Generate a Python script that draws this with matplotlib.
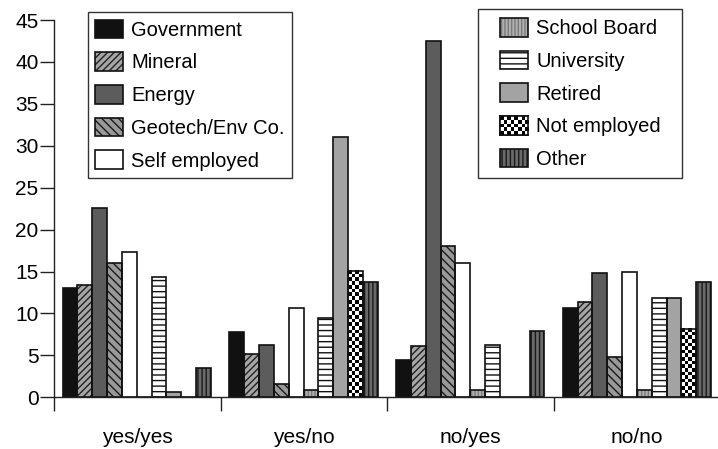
import numpy as np
import matplotlib
matplotlib.use('Agg')
import matplotlib.pyplot as plt
from matplotlib.legend_handler import HandlerTuple
from matplotlib.patches import Rectangle

plt.rcParams['font.family'] = ['Liberation Sans', 'DejaVu Sans']
plt.rcParams['hatch.linewidth'] = 1.0

groups = ['yes/yes', 'yes/no', 'no/yes', 'no/no']
series = ['Government', 'Mineral', 'Energy', 'Geotech/Env Co.', 'Self employed',
          'School Board', 'University', 'Retired', 'Not employed', 'Other']

government = [13.0, 7.8, 4.5, 10.7]
mineral = [13.4, 5.2, 6.1, 11.4]
energy = [22.6, 6.2, 42.5, 14.8]
geotech = [16.0, 1.6, 18.0, 4.8]
self_employed = [17.3, 10.6, 16.0, 14.9]
school_board = [0, 0.9, 0.9, 0.9]
university = [14.3, 9.5, 6.2, 11.9]
retired = [0.6, 31.0, 0, 11.9]
not_employed = [0, 15.1, 0, 8.2]
other = [3.5, 13.8, 7.9, 13.7]

values = [government, mineral, energy, geotech, self_employed,
          school_board, university, retired, not_employed, other]

# face colour, hatch colour, hatch pattern ('checker' is drawn with imshow)
styles = [
    ('#111111', '#111111', None),
    ('#a6a6a6', '#222222', '/////'),
    ('#5c5c5c', '#5c5c5c', None),
    ('#999999', '#1a1a1a', '\\\\\\\\'),
    ('#ffffff', '#ffffff', None),
    ('#b0b0b0', '#7a7a7a', '|||||'),
    ('#ffffff', '#111111', '---'),
    ('#a3a3a3', '#a3a3a3', None),
    ('#ffffff', '#ffffff', 'checker'),
    ('#6a6a6a', '#1a1a1a', '||||'),
]

W, H = 718, 449
fig = plt.figure(figsize=(W / 100, H / 100), dpi=100)
ax = fig.add_axes([53.8 / W, 1 - 397.3 / H, 1 - 53.8 / W, (397.3 - 20) / H])

XMAX = (W - 53.8) / 166.7
x0 = np.arange(len(groups))
width = 0.089
offset = 0.053
cell = 3.7  # checker cell size in pixels


def checker(nr, nc):
    return (np.add.outer(np.arange(nr), np.arange(nc)) % 2).astype(float)


handles = []
for j, (vals, (fc, hc, hatch)) in enumerate(zip(values, styles)):
    xs = x0 + offset + j * width
    b1 = ax.bar(xs, vals, width, align='edge', color=fc, edgecolor=hc,
                hatch=None if hatch == 'checker' else hatch, linewidth=0)
    if hatch == 'checker':
        for xi, v in zip(xs, vals):
            if v <= 0:
                continue
            nc = max(1, round(width * 166.7 / cell))
            nr = max(1, round(v * 8.385 / cell))
            ax.imshow(checker(nr, nc), cmap='gray', vmin=0, vmax=1,
                      extent=(xi, xi + width, 0, v), aspect='auto',
                      interpolation='nearest', zorder=1.5)
    b2 = ax.bar(xs, vals, width, align='edge', fill=False, edgecolor='#111111',
                linewidth=1.2, zorder=2)
    handles.append((b1, b2))

ax.set_xlim(0, XMAX)
ax.set_ylim(0, 45)
ax.set_yticks(np.arange(0, 46, 5))
ax.tick_params(axis='y', direction='out', length=10, width=1, pad=1,
               labelsize=15, color='#222222')
ax.set_xticks(np.arange(0, 4))
ax.set_xticklabels([])
ax.tick_params(axis='x', which='major', direction='out', length=10, width=1,
               color='#222222')
ax.set_xticks(x0 + 0.5, minor=True)
ax.set_xticklabels(groups, minor=True, fontsize=15)
ax.tick_params(axis='x', which='minor', length=0, pad=22)
for s in ['top', 'right']:
    ax.spines[s].set_visible(False)
for s in ['left', 'bottom']:
    ax.spines[s].set_color('#222222')
    ax.spines[s].set_linewidth(1.0)

leg_kw = dict(frameon=False, loc='upper left', borderpad=0, borderaxespad=0,
              handlelength=1.4, handleheight=1.05, handletextpad=0.4,
              labelspacing=0.62, fontsize=14.5,
              handler_map={tuple: HandlerTuple(ndivide=1, pad=0)})
leg1 = fig.legend(handles[:5], series[:5],
                  bbox_to_anchor=(95 / W, 1 - 19.5 / H), **leg_kw)
leg2 = fig.legend(handles[5:], series[5:],
                  bbox_to_anchor=(500 / W, 1 - 18 / H), **leg_kw)

for (xa, ya, xb, yb) in [(88, 12, 292, 178), (478, 9, 682, 178)]:
    fig.patches.append(Rectangle((xa / W, 1 - yb / H), (xb - xa) / W,
                                 (yb - ya) / H, transform=fig.transFigure,
                                 fill=False, edgecolor='#333333', linewidth=1.0))

# checker pattern inside the "Not employed" legend key
fig.canvas.draw()
bb = leg2.legend_handles[3].get_window_extent()
kax = fig.add_axes([bb.x0 / W, bb.y0 / H, bb.width / W, bb.height / H], zorder=10)
kax.imshow(checker(max(1, round(bb.height / cell)), max(1, round(bb.width / cell))),
           cmap='gray', vmin=0, vmax=1, aspect='auto', interpolation='nearest')
kax.set_xticks([])
kax.set_yticks([])
for s in kax.spines.values():
    s.set_color('#111111')
    s.set_linewidth(1.2)

fig.savefig('out.png', dpi=100)
